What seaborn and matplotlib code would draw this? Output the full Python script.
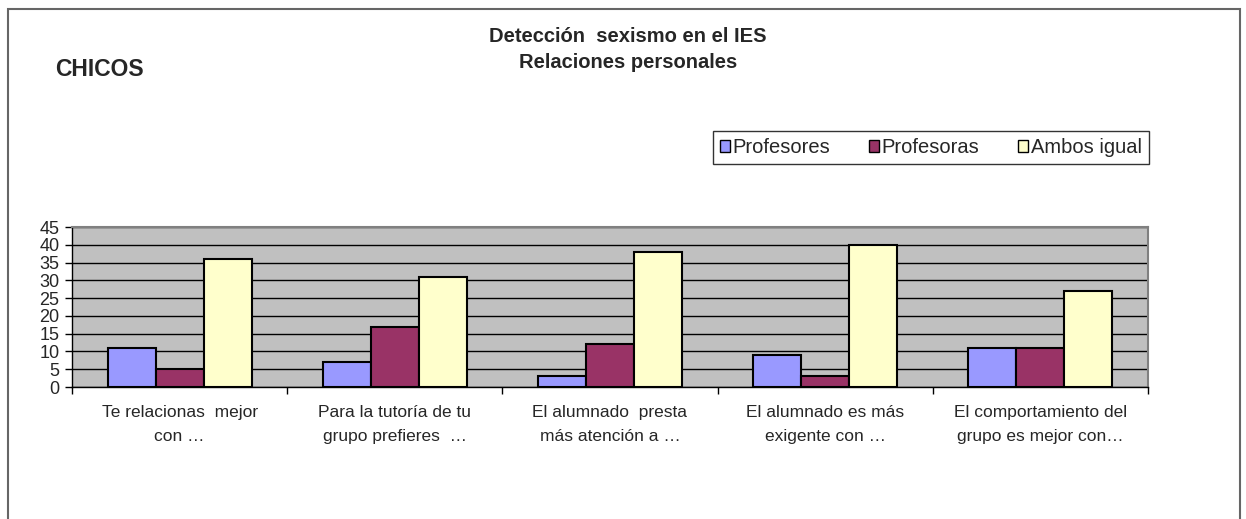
import matplotlib
matplotlib.use("Agg")
import matplotlib.pyplot as plt
import seaborn as sns
import pandas as pd
import numpy as np
from matplotlib.patches import Rectangle

categories = ["Te relacionas  mejor\ncon …",
              "Para la tutoría de tu\ngrupo prefieres  …",
              "El alumnado  presta\nmás atención a …",
              "El alumnado es más\nexigente con …",
              "El comportamiento del\ngrupo es mejor con…"]
series = ["Profesores", "Profesoras", "Ambos igual"]
profesores = [11, 7, 3, 9, 11]
profesoras = [5, 17, 12, 3, 11]
ambos = [36, 31, 38, 40, 27]
colors = ["#9999FF", "#993366", "#FFFFCC"]

df = pd.DataFrame({
    "cat": categories * 3,
    "serie": [series[0]] * 5 + [series[1]] * 5 + [series[2]] * 5,
    "valor": profesores + profesoras + ambos,
})

sns.set_theme(style="white")
plt.rcParams["font.family"] = ["Liberation Sans", "DejaVu Sans"]

W, H = 1246, 519
fig = plt.figure(figsize=(W / 100, H / 100), dpi=100)
ax = fig.add_axes([72 / W, (H - 387) / H, (1148 - 72) / W, (387 - 227) / H])

sns.barplot(data=df, x="cat", y="valor", hue="serie", palette=colors,
            width=0.67, edgecolor="black", linewidth=1.5, saturation=1,
            ax=ax, legend=False, zorder=3)

ax.set_facecolor("#C0C0C0")
ax.set_ylim(0, 45)
ax.set_xlim(-0.5, 4.5)
ax.set_yticks(np.arange(0, 46, 5))
ax.yaxis.grid(True, color="black", linewidth=1, zorder=0)
ax.set_axisbelow(True)
ax.tick_params(axis="y", labelsize=13, length=5, width=1, color="black", pad=4, left=True)
ax.tick_params(axis="x", which="major", labelsize=12.5, length=0, pad=13)
ax.set_xticks(np.arange(-0.5, 5, 1), minor=True)
ax.tick_params(axis="x", which="minor", length=5, width=1, color="black", bottom=True)
for lab in ax.get_xticklabels():
    lab.set_linespacing(1.75)
ax.set_xlabel("")
ax.set_ylabel("")
for s in ["left", "bottom"]:
    ax.spines[s].set_color("black")
    ax.spines[s].set_linewidth(1)
for s in ["top", "right"]:
    ax.spines[s].set_color("#808080")
    ax.spines[s].set_linewidth(1.5)

handles = [Rectangle((0, 0), 1, 1, facecolor=c, edgecolor="black", linewidth=1) for c in colors]
leg = fig.legend(handles, series, loc="upper right", bbox_to_anchor=(1149 / W, 1 - 131 / H),
                 ncol=3, fontsize=14.5, frameon=True, fancybox=False, handlelength=0.5,
                 handleheight=0.5, handletextpad=0.15, columnspacing=1.9, borderpad=0.35,
                 borderaxespad=0)
leg.get_frame().set_edgecolor("black")
leg.get_frame().set_linewidth(1)

fig.text(628 / W, 1 - 37 / H, "Detección  sexismo en el IES", ha="center", va="center",
         fontsize=14.5, fontweight="bold")
fig.text(628 / W, 1 - 62 / H, "Relaciones personales", ha="center", va="center",
         fontsize=14.5, fontweight="bold")
fig.text(55 / W, 1 - 70 / H, "CHICOS", ha="left", va="center", fontsize=16.5, fontweight="bold")

fig.patches.append(Rectangle((8 / W, -0.1), (1240 - 8) / W, 1.1 - 9 / H,
                             transform=fig.transFigure, fill=False,
                             edgecolor="#666666", linewidth=1.5))

fig.savefig("out.png", dpi=100)
